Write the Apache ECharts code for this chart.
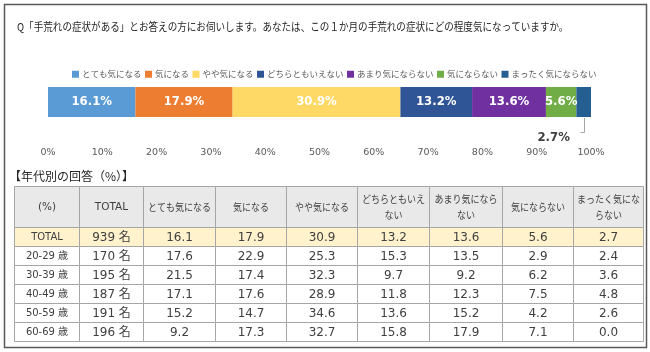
<!DOCTYPE html>
<html>
<head>
<meta charset="utf-8">
<script src="https://cdn.jsdelivr.net/npm/echarts@6/dist/echarts.min.js"></script>
<style>
html,body{margin:0;padding:0;background:#fff;}
#main{width:650px;height:352px;}
</style>
</head>
<body>
<div id="main"></div>
<script>
// ---- data ----
const titleText = 'Q「手荒れの症状がある」とお答えの方にお伺いします。あなたは、この１か月の手荒れの症状にどの程度気になっていますか。';
const categories = ['とても気になる', '気になる', 'やや気になる', 'どちらともいえない', 'あまり気にならない', '気にならない', 'まったく気にならない'];
const totalValues = [16.1, 17.9, 30.9, 13.2, 13.6, 5.6, 2.7];

const tableTitle = '【年代別の回答（%）】';
const tableHeaders = ['(%)', 'TOTAL', 'とても気になる', '気になる', 'やや気になる', 'どちらともいえ\nない', 'あまり気になら\nない', '気にならない', 'まったく気にな\nらない'];
const rowLabels = ['TOTAL', '20-29 歳', '30-39 歳', '40-49 歳', '50-59 歳', '60-69 歳'];
const rowCounts = [939, 170, 195, 187, 191, 196];
const rowTotal = [16.1, 17.9, 30.9, 13.2, 13.6, 5.6, 2.7];
const row20s = [17.6, 22.9, 25.3, 15.3, 13.5, 2.9, 2.4];
const row30s = [21.5, 17.4, 32.3, 9.7, 9.2, 6.2, 3.6];
const row40s = [17.1, 17.6, 28.9, 11.8, 12.3, 7.5, 4.8];
const row50s = [15.2, 14.7, 34.6, 13.6, 15.2, 4.2, 2.6];
const row60s = [9.2, 17.3, 32.7, 15.8, 17.9, 7.1, 0.0];
const tableRows = [rowTotal, row20s, row30s, row40s, row50s, row60s];

// ---- styles / layout ----
const palette = ['#5B9BD5', '#ED7D31', '#FFD966', '#2F5597', '#7030A0', '#70AD47', '#255E91'];
const CJK = "'Noto Sans CJK JP'";
const LAT = "'DejaVu Sans','Noto Sans CJK JP'";
const COND = "'DejaVu Sans Condensed','DejaVu Sans'";
const colEdges = [14, 79, 143, 215, 286, 357, 429, 502, 573, 643];
const rowEdges = [186, 227, 246, 265, 284, 303, 322, 341];
const BAR_H = 30;

const chart = echarts.init(document.getElementById('main'), null, {renderer: 'canvas'});

const graphics = [];
// outer frame
graphics.push({type: 'rect', shape: {x: 4.5, y: 4.5, width: 642, height: 343}, style: {fill: null, stroke: '#595959', lineWidth: 1.5}, silent: true});
// title
graphics.push({type: 'text', x: 17, y: 27, scaleX: 0.87, style: {text: titleText, font: '11px ' + CJK, fill: '#262626', textAlign: 'left', textVerticalAlign: 'middle'}});
// table title
graphics.push({type: 'text', x: 9, y: 176, style: {text: tableTitle, font: '12px ' + CJK, fill: '#262626', textAlign: 'left', textVerticalAlign: 'middle'}});

// table cells
for (let r = 0; r < rowEdges.length - 1; r++) {
  for (let c = 0; c < colEdges.length - 1; c++) {
    const x0 = colEdges[c], x1 = colEdges[c + 1];
    const y0 = rowEdges[r], y1 = rowEdges[r + 1];
    const fill = r === 0 ? '#E9E9E9' : (r === 1 ? '#FFF2CC' : '#FFFFFF');
    graphics.push({type: 'rect', shape: {x: x0 + 0.5, y: y0 + 0.5, width: x1 - x0, height: y1 - y0}, style: {fill: fill, stroke: '#A6A6A6', lineWidth: 1}, silent: true});
    let text, font, scaleX = 1;
    if (r === 0) {
      text = tableHeaders[c];
      if (c < 2) { font = '10.5px ' + LAT; }
      else { font = '10px ' + CJK; scaleX = 0.9; }
    } else {
      const d = r - 1;
      if (c === 0) { text = rowLabels[d]; font = '10px ' + LAT; }
      else if (c === 1) { text = rowCounts[d] + ' 名'; font = '12px ' + LAT; }
      else { text = tableRows[d][c - 2].toFixed(1); font = '12px ' + LAT; }
    }
    graphics.push({type: 'text', x: (x0 + x1) / 2 + 0.5, y: (y0 + y1) / 2 + 1, scaleX: scaleX,
      style: {text: text, font: font, fill: '#404040', textAlign: 'center', textVerticalAlign: 'middle', lineHeight: 16}});
  }
}

const series = categories.map((name, i) => {
  const s = {
    name: name,
    type: 'bar',
    stack: 'total',
    barWidth: BAR_H,
    data: [totalValues[i]],
    itemStyle: {color: palette[i]},
    label: {show: true, position: 'inside', formatter: '{c}%', color: '#FFFFFF', fontWeight: 'bold', fontSize: 13, fontFamily: COND}
  };
  if (i === categories.length - 1) {
    s.label = {show: true, position: 'bottom', formatter: '{c}%', color: '#404040', fontWeight: 'bold', fontSize: 13, fontFamily: COND};
    s.labelLayout = {dx: -30, dy: 9};
  }
  return s;
});

chart.setOption({
  animation: false,
  backgroundColor: '#FFFFFF',
  legend: {
    data: categories,
    left: 67, top: 65,
    itemWidth: 7, itemHeight: 7, itemGap: 3.5,
    icon: 'rect',
    textStyle: {fontSize: 8.5, color: '#595959', fontFamily: CJK, padding: [0, 0, 0, -2]}
  },
  grid: {left: 48, right: 59, top: 87, height: 30},
  xAxis: {
    type: 'value', min: 0, max: 100, interval: 10,
    axisLabel: {formatter: '{value}%', color: '#595959', fontSize: 9.5, fontFamily: "'DejaVu Sans'", margin: 31},
    splitLine: {show: false}, axisLine: {show: false}, axisTick: {show: false}
  },
  yAxis: {type: 'category', data: ['TOTAL'], show: false},
  series: series,
  graphic: graphics
});

// leader line for the last (small) segment, positioned through the axis scales
const lastIdx = totalValues.length - 1;
const before = totalValues.slice(0, lastIdx).reduce((a, b) => a + b, 0);
const cx = Math.round(chart.convertToPixel({xAxisIndex: 0}, before + totalValues[lastIdx] / 2)) + 0.5;
const cy = chart.convertToPixel({yAxisIndex: 0}, 'TOTAL');
const barBottom = cy + BAR_H / 2;
graphics.push({type: 'polyline', shape: {points: [[cx, barBottom + 1], [cx, barBottom + 15.5], [cx - 4, barBottom + 15.5]]},
  style: {stroke: '#A6A6A6', lineWidth: 1, fill: null}, silent: true});
chart.setOption({graphic: graphics});
</script>
</body>
</html>
